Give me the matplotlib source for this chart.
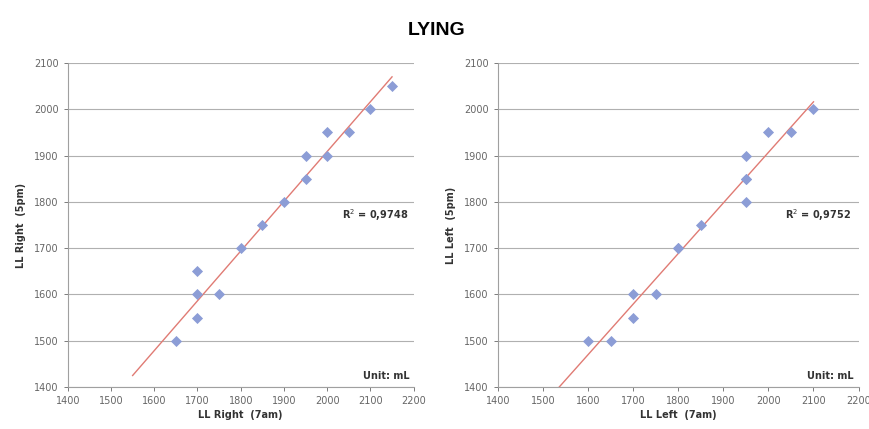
import numpy as np
import matplotlib.pyplot as plt

# lying position, leg volume morning vs evening
right_am = [1650, 1700, 1700, 1700, 1750, 1800, 1850, 1900, 1950, 1950, 2000, 2000, 2050, 2100, 2150]
right_pm = [1500, 1650, 1600, 1550, 1600, 1700, 1750, 1800, 1900, 1850, 1950, 1900, 1950, 2000, 2050]
# darker markers in the original look like two points on top of each other
left_am = [1600, 1650, 1700, 1700, 1750, 1800, 1800, 1850, 1950, 1950, 1950, 1950, 2000, 2050, 2100]
left_pm = [1500, 1500, 1600, 1550, 1600, 1700, 1700, 1750, 1900, 1850, 1850, 1800, 1950, 1950, 2000]
r2_right = '0,9748'
r2_left = '0,9752'

MARK = '#8c9dd6'
LINE = '#e07b74'
GRID = '#b0b0b0'


def panel(ax, x, y, xlabel, ylabel, r2, line_start):
    ax.set_xlim(1400, 2200)
    ax.set_ylim(1400, 2100)
    ax.set_xticks(np.arange(1400, 2201, 100))
    ax.set_yticks(np.arange(1400, 2101, 100))
    ax.grid(axis='y', color=GRID, lw=0.8)
    ax.set_axisbelow(True)
    for s in ['top', 'right']:
        ax.spines[s].set_visible(False)
    for s in ['left', 'bottom']:
        ax.spines[s].set_color('#a0a0a0')
        ax.spines[s].set_linewidth(0.8)
    ax.tick_params(labelsize=7, colors='#666666', length=3, width=0.6)
    # linear trendline
    k, b = np.polyfit(x, y, 1)
    xs = np.array([line_start, max(x)])
    ax.plot(xs, k * xs + b, color=LINE, lw=1.0, zorder=2)
    ax.scatter(x, y, marker='D', s=32, color=MARK, zorder=3, linewidths=0)
    ax.set_xlabel(xlabel, fontsize=7, fontweight='bold', color='#333333', labelpad=3)
    ax.set_ylabel(ylabel, fontsize=7, fontweight='bold', color='#333333', labelpad=6)
    ax.text(2110, 1772, 'R$^2$ = ' + r2, fontsize=7, fontweight='bold', color='#333333',
            ha='center', va='center')
    ax.text(2190, 1423, 'Unit: mL', fontsize=7, fontweight='bold', color='#333333',
            ha='right', va='center')


fig = plt.figure(figsize=(8.69, 4.29), dpi=100)
ax1 = fig.add_axes([0.078, 0.098, 0.398, 0.755])
ax2 = fig.add_axes([0.573, 0.098, 0.415, 0.755])

panel(ax1, right_am, right_pm, 'LL Right  (7am)', 'LL Right  (5pm)', r2_right, 1550)
panel(ax2, left_am, left_pm, 'LL Left  (7am)', 'LL Left  (5pm)', r2_left, 1520)

fig.text(0.503, 0.93, 'LYING', fontsize=14, fontweight='bold', ha='center', va='center',
         family='Liberation Sans')

fig.savefig('out.png', dpi=100)
